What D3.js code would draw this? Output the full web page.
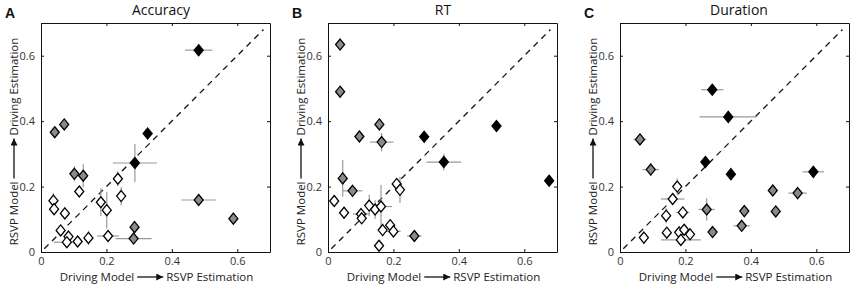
<!DOCTYPE html>
<html><head><meta charset="utf-8">
<script src="https://cdn.jsdelivr.net/npm/d3@7"></script>
<style>body{margin:0;background:#fff}svg{display:block}</style>
</head><body>
<svg id="c" width="851" height="284"></svg>
<script>
// ---- DATA ----
const panelTitles = ["Accuracy", "RT", "Duration"];
const panelLetters = ["A", "B", "C"];
const tickValues = [0, 0.2, 0.4, 0.6];
const tickLabels = ["0", "0.2", "0.4", "0.6"];
const xLabelLeft = "Driving Model", xLabelRight = "RSVP Estimation";
const yLabelLeft = "RSVP Model", yLabelRight = "Driving Estimation";
// type: 0 = white, 1 = gray, 2 = black
const accX    = [0.482,0.326,0.287,0.042,0.071,0.102,0.129,0.286,0.283,0.482,0.588,0.235,0.117,0.245,0.183,0.201,0.038,0.040,0.073,0.060,0.084,0.079,0.112,0.145,0.205];
const accY    = [0.617,0.362,0.272,0.366,0.390,0.239,0.233,0.076,0.041,0.159,0.102,0.224,0.185,0.171,0.152,0.128,0.157,0.131,0.118,0.066,0.047,0.030,0.032,0.043,0.049];
const accXErr = [0.042,0.015,0.067,0.008,0.008,0.008,0.006,0.005,0.055,0.052,0.006,0.010,0.008,0.005,0.005,0.005,0.008,0.005,0.005,0.008,0.006,0.040,0.006,0.006,0.033];
const accYErr = [0.008,0.008,0.058,0.008,0.008,0.023,0.035,0.008,0.006,0.008,0.010,0.023,0.008,0.028,0.043,0.056,0.023,0.015,0.008,0.008,0.012,0.005,0.006,0.022,0.006];
const accType = [2,2,2,1,1,1,1,1,1,1,1,0,0,0,0,0,0,0,0,0,0,0,0,0,0];

const rtX    = [0.037,0.037,0.157,0.096,0.164,0.045,0.075,0.264,0.294,0.515,0.354,0.676,0.019,0.049,0.101,0.103,0.126,0.144,0.162,0.167,0.190,0.200,0.156,0.210,0.220];
const rtY    = [0.634,0.490,0.390,0.353,0.336,0.225,0.187,0.049,0.352,0.385,0.275,0.218,0.156,0.120,0.116,0.103,0.142,0.130,0.139,0.067,0.082,0.063,0.019,0.208,0.190];
const rtXErr = [0.006,0.012,0.006,0.008,0.036,0.006,0.030,0.022,0.008,0.008,0.053,0.008,0.006,0.005,0.025,0.006,0.006,0.006,0.034,0.006,0.006,0.022,0.015,0.015,0.008];
const rtYErr = [0.008,0.008,0.008,0.006,0.028,0.056,0.006,0.006,0.012,0.010,0.025,0.006,0.015,0.018,0.006,0.006,0.033,0.028,0.066,0.020,0.010,0.006,0.005,0.008,0.040];
const rtType = [1,1,1,1,1,1,1,1,2,2,2,2,0,0,0,0,0,0,0,0,0,0,0,0,0];

const durX    = [0.282,0.331,0.261,0.339,0.591,0.061,0.094,0.467,0.543,0.380,0.476,0.372,0.283,0.265,0.175,0.161,0.192,0.141,0.143,0.181,0.196,0.214,0.186,0.073];
const durY    = [0.496,0.413,0.275,0.238,0.245,0.344,0.252,0.188,0.180,0.125,0.124,0.080,0.061,0.130,0.200,0.162,0.121,0.111,0.059,0.060,0.068,0.054,0.037,0.044];
const durXErr = [0.034,0.088,0.008,0.013,0.033,0.020,0.025,0.008,0.028,0.006,0.008,0.025,0.012,0.025,0.006,0.036,0.020,0.005,0.012,0.006,0.006,0.008,0.061,0.006];
const durYErr = [0.008,0.006,0.010,0.008,0.008,0.010,0.020,0.012,0.010,0.008,0.008,0.006,0.006,0.034,0.025,0.008,0.006,0.023,0.006,0.006,0.006,0.006,0.005,0.008];
const durType = [2,2,2,2,2,1,1,1,1,1,1,1,1,1,0,0,0,0,0,0,0,0,0,0];

// ---- LAYOUT ----
const FONT = "'Open Sans', sans-serif";
const fills = ["#ffffff", "#8a8a8a", "#000000"];
const panelLeft = [41, 328, 620];
const titleX = [161, 443, 739];
const plotTop = 23, plotSize = 229;
const series = [
  [accX, accY, accXErr, accYErr, accType],
  [rtX, rtY, rtXErr, rtYErr, rtType],
  [durX, durY, durXErr, durYErr, durType]
];
const svg = d3.select("#c");

svg.append("defs").append("marker")
  .attr("id", "ah").attr("viewBox", "0 0 10 10").attr("refX", 10).attr("refY", 5)
  .attr("markerWidth", 9).attr("markerHeight", 7).attr("markerUnits", "userSpaceOnUse")
  .attr("orient", "auto")
  .append("path").attr("d", "M0,0L10,5L0,10Z").attr("fill", "#111");

function arrowLabel(g, left, right, cx, cy, rotate, aw) {
  const gg = g.append("g").attr("transform", `translate(${cx},${cy})` + (rotate ? " rotate(-90)" : ""));
  const tl = gg.append("text").text(left).attr("font-family", FONT).attr("font-size", 11.5).attr("fill", "#222");
  const tr = gg.append("text").text(right).attr("font-family", FONT).attr("font-size", 11.5).attr("fill", "#222");
  const wl = tl.node().getComputedTextLength(), wr = tr.node().getComputedTextLength();
  const gap = 3;
  const total = wl + gap + aw + gap + wr;
  const x0 = -total / 2;
  tl.attr("x", x0);
  const ax = x0 + wl + gap;
  gg.append("line").attr("x1", ax).attr("x2", ax + aw).attr("y1", -4).attr("y2", -4)
    .attr("stroke", "#111").attr("stroke-width", 1.3).attr("marker-end", "url(#ah)");
  tr.attr("x", ax + aw + gap);
}

series.forEach((s, pi) => {
  const [xs, ys, xe, ye, tp] = s;
  const L = panelLeft[pi];
  const x = d3.scaleLinear().domain([0, 0.7]).range([L, L + plotSize]);
  const y = d3.scaleLinear().domain([0, 0.7]).range([plotTop + plotSize, plotTop]);
  const g = svg.append("g");

  const axB = d3.axisBottom(x).tickValues(tickValues).tickFormat((d, i) => tickLabels[i]).tickSizeInner(-3).tickSizeOuter(0).tickPadding(5);
  const axL = d3.axisLeft(y).tickValues(tickValues).tickFormat((d, i) => tickLabels[i]).tickSizeInner(-3).tickSizeOuter(0).tickPadding(6);
  const axT = d3.axisTop(x).tickValues(tickValues).tickFormat("").tickSizeInner(-3).tickSizeOuter(0);
  const axR = d3.axisRight(y).tickValues(tickValues).tickFormat("").tickSizeInner(-3).tickSizeOuter(0);
  [[axB, `translate(0,${plotTop + plotSize})`], [axL, `translate(${L},0)`], [axT, `translate(0,${plotTop})`], [axR, `translate(${L + plotSize},0)`]].forEach(([a, t]) => {
    const ag = g.append("g").attr("transform", t).call(a);
    ag.select(".domain").attr("stroke", "#111").attr("stroke-width", 1);
    ag.selectAll(".tick line").attr("stroke", "#111");
    ag.selectAll("text").attr("font-family", FONT).attr("font-size", 11).attr("fill", "#333");
  });

  g.append("line").attr("x1", x(0.01)).attr("y1", y(0.01)).attr("x2", x(0.68)).attr("y2", y(0.68))
    .attr("stroke", "#111").attr("stroke-width", 1.3).attr("stroke-dasharray", "6,5");

  const idx = d3.range(xs.length);
  g.selectAll(".eh").data(idx).join("line")
    .attr("x1", i => x(xs[i] - xe[i])).attr("x2", i => x(xs[i] + xe[i]))
    .attr("y1", i => y(ys[i])).attr("y2", i => y(ys[i]))
    .attr("stroke", "#9a9a9a").attr("stroke-width", 1.2);
  g.selectAll(".ev").data(idx).join("line")
    .attr("x1", i => x(xs[i])).attr("x2", i => x(xs[i]))
    .attr("y1", i => y(ys[i] - ye[i])).attr("y2", i => y(ys[i] + ye[i]))
    .attr("stroke", "#9a9a9a").attr("stroke-width", 1.2);
  const w = 4.5, h = 5.5;
  g.selectAll(".pt").data(idx).join("path")
    .attr("d", i => { const cx = x(xs[i]), cy = y(ys[i]); return `M${cx},${cy - h}L${cx + w},${cy}L${cx},${cy + h}L${cx - w},${cy}Z`; })
    .attr("fill", i => fills[tp[i]]).attr("stroke", "#000").attr("stroke-width", 1.3);

  g.append("text").attr("x", titleX[pi]).attr("y", 15).attr("text-anchor", "middle")
    .attr("font-family", FONT).attr("font-size", 14).attr("fill", "#111").text(panelTitles[pi]);
  g.append("text").attr("x", L - 36).attr("y", 18)
    .attr("font-family", "'Liberation Sans', Arial, sans-serif").attr("font-weight", "bold").attr("font-size", 14).attr("fill", "#111").text(panelLetters[pi]);

  arrowLabel(g, xLabelLeft, xLabelRight, L + plotSize / 2 + 1, 281, false, 26);
  arrowLabel(g, yLabelLeft, yLabelRight, L - 23, plotTop + plotSize / 2 + 4, true, 40);
});
</script>
</body></html>
